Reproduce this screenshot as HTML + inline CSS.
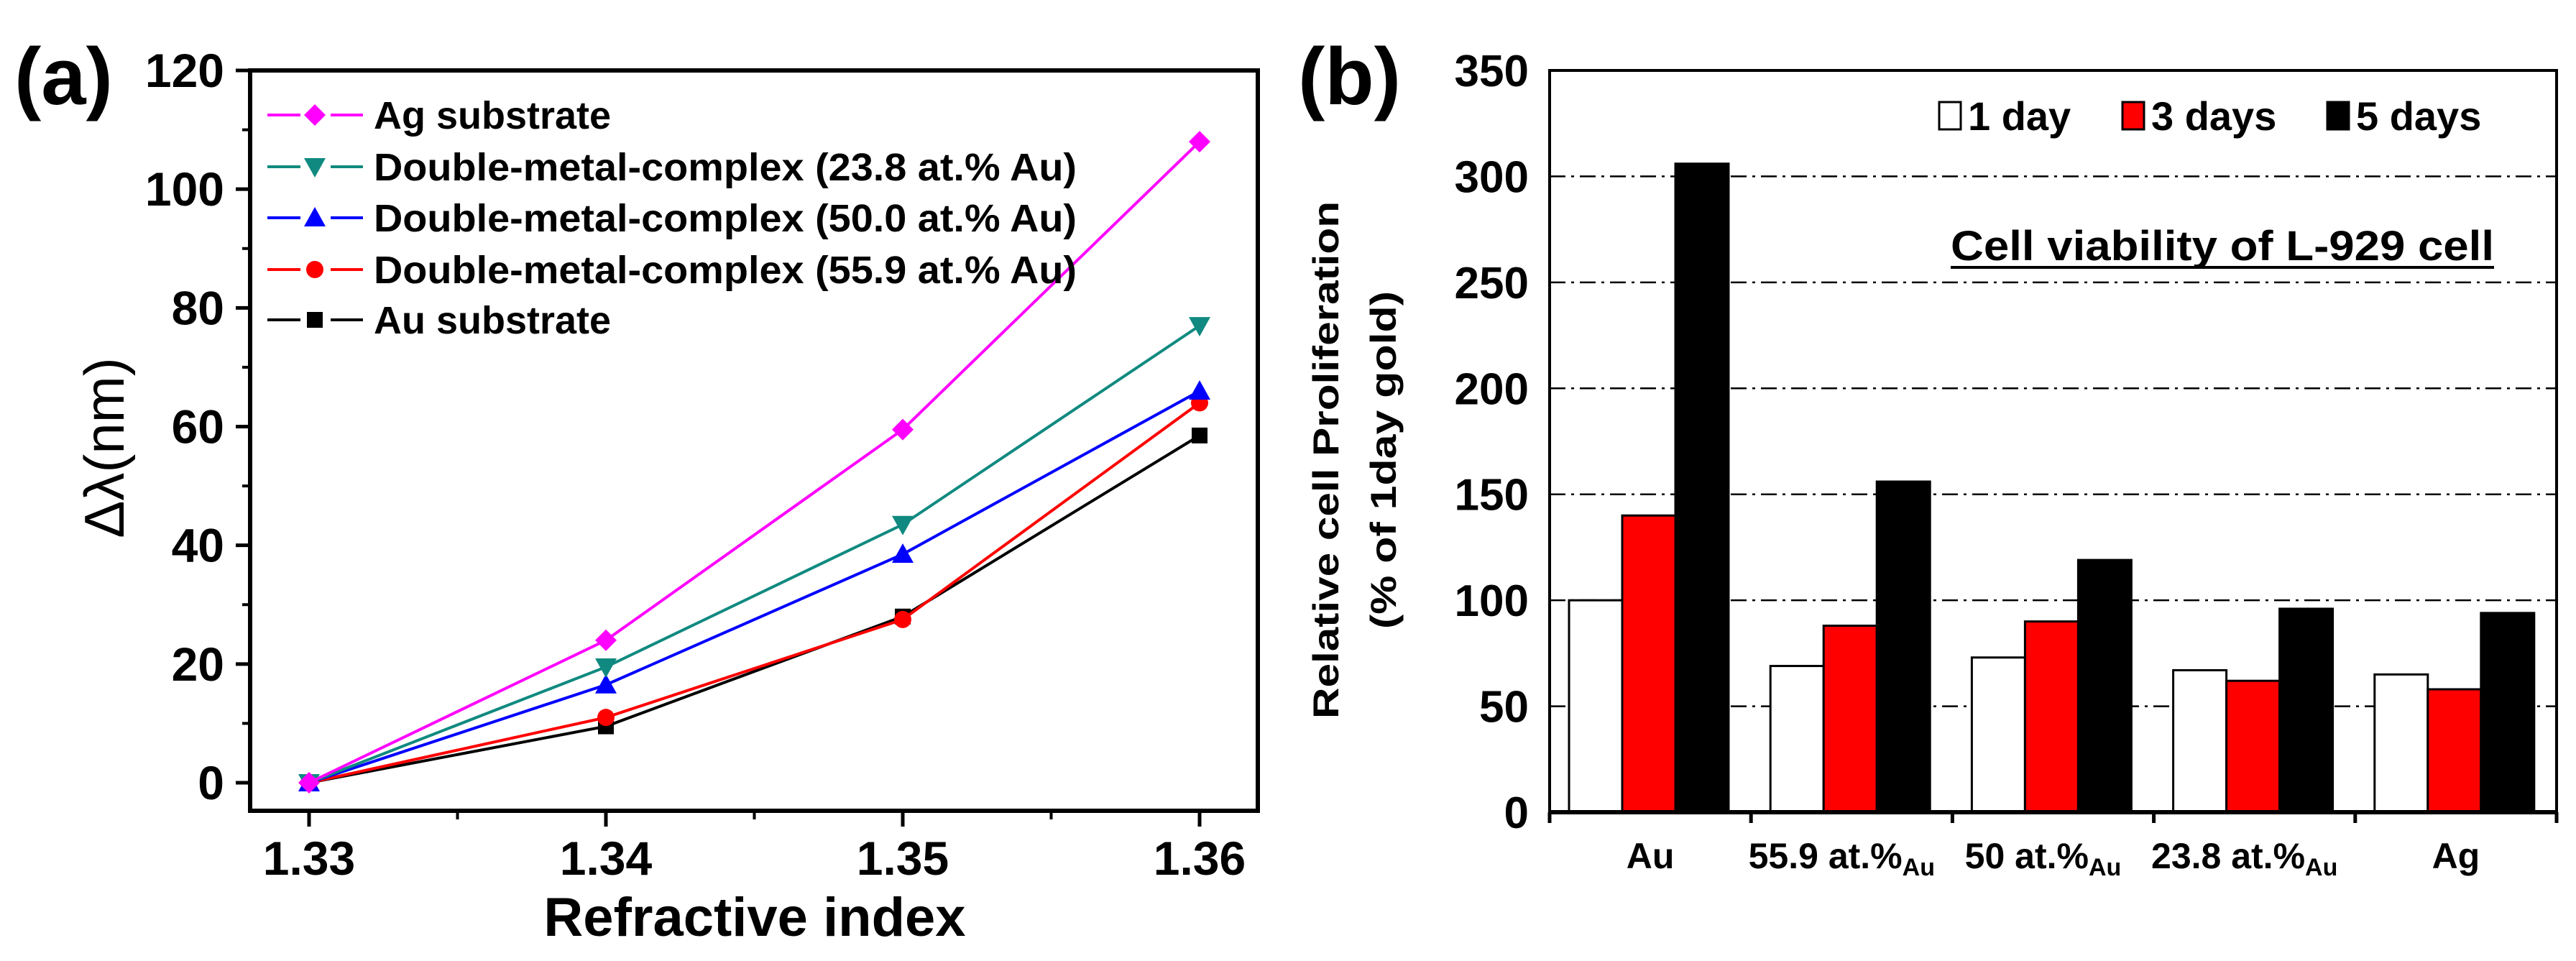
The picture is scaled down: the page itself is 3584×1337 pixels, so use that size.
<!DOCTYPE html>
<html><head><meta charset="utf-8"><style>
html,body{margin:0;padding:0;background:#fff;}
svg{display:block;font-family:"Liberation Sans",Arial,sans-serif;font-weight:bold;}
</style></head><body>
<svg id="fig" width="3584" height="1337" viewBox="0 0 3584 1337" xmlns="http://www.w3.org/2000/svg">
<rect width="3584" height="1337" fill="#fff"/>
<g id="pa"></g>
<g id="pb"></g>
</svg>
<script>
// ---------- Panel (a) data ----------
const aCategories = [1.33, 1.34, 1.35, 1.36];
const aTickLabels = ["1.33", "1.34", "1.35", "1.36"];
const aYTicks = [0, 20, 40, 60, 80, 100, 120];
const agValues = [0, 24, 59.5, 108];
const dm238Values = [0, 19.5, 43.5, 77];
const dm500Values = [0, 16.5, 38.5, 66];
const dm559Values = [0, 11, 27.5, 64];
const auValues = [0, 9.5, 28, 58.5];
const aSeriesNames = ["Ag substrate", "Double-metal-complex (23.8 at.% Au)", "Double-metal-complex (50.0 at.% Au)", "Double-metal-complex (55.9 at.% Au)", "Au substrate"];

// ---------- Panel (b) data ----------
const bCategories = ["Au", "55.9 at.%", "50 at.%", "23.8 at.%", "Ag"];
const bSubscripts = ["", "Au", "Au", "Au", ""];
const day1Values = [100, 69, 73, 67, 65];
const day3Values = [140, 88, 90, 62, 58];
const day5Values = [306, 156, 119, 96, 94];
const bYTicks = [0, 50, 100, 150, 200, 250, 300, 350];
const bSeriesNames = ["1 day", "3 days", "5 days"];

const NS = "http://www.w3.org/2000/svg";
function mk(parent, tag, attrs, text) {
  const e = document.createElementNS(NS, tag);
  for (const k in attrs) e.setAttribute(k, attrs[k]);
  if (text !== undefined) e.textContent = text;
  parent.appendChild(e);
  return e;
}

// ===== Panel a =====
const pa = document.getElementById('pa');
const aL = 348, aR = 1750, aT = 98, aB = 1128;
const ax = v => 430 + (v - 1.33) / 0.01 * 413;
const ay = v => 1089 - v / 120 * (1089 - 98);

let t = mk(pa, 'text', {x: 20, y: 145, 'font-size': 112, 'font-family': '"Liberation Sans",sans-serif'}, '(a)');



let fr = mk(pa, 'rect', {x: aL, y: aT, width: aR - aL, height: aB - aT, fill: 'none', stroke: '#000', 'stroke-width': 6});



// y ticks
for (let i = 0; i < aYTicks.length; i++) {
  const v = aYTicks[i];
  const tk = mk(pa, 'line', {x1: aL - 20, x2: aL, y1: ay(v), y2: ay(v), stroke: '#000', 'stroke-width': 5});
  
  
  if (i < aYTicks.length - 1) {
    const m = mk(pa, 'line', {x1: aL - 11, x2: aL, y1: ay(v + 10), y2: ay(v + 10), stroke: '#000', 'stroke-width': 4});
    
    
  }
  const lb = mk(pa, 'text', {x: 312, y: ay(v) + 23, 'text-anchor': 'end', 'font-size': 66}, String(v));
  
  
}
// x ticks
for (let i = 0; i < aCategories.length; i++) {
  const x = ax(aCategories[i]);
  const tk = mk(pa, 'line', {x1: x, x2: x, y1: aB, y2: aB + 22, stroke: '#000', 'stroke-width': 5});
  
  
  if (i < aCategories.length - 1) {
    const mx = ax(aCategories[i] + 0.005);
    const m = mk(pa, 'line', {x1: mx, x2: mx, y1: aB, y2: aB + 12, stroke: '#000', 'stroke-width': 4});
    
    
  }
  const lb = mk(pa, 'text', {x: x, y: 1217, 'text-anchor': 'middle', 'font-size': 66}, aTickLabels[i]);
  
  
}
t = mk(pa, 'text', {x: 1050, y: 1302, 'text-anchor': 'middle', 'font-size': 76}, 'Refractive index');


t = mk(pa, 'text', {x: 0, y: 0, 'text-anchor': 'middle', 'font-size': 78, transform: 'translate(172,623) rotate(-90)', 'font-weight': 'normal'}, 'Δλ(nm)');



const aSeries = [
  {vals: agValues, color: '#ff00ff', m: 'diamond'},
  {vals: dm238Values, color: '#108a80', m: 'tri-down'},
  {vals: dm500Values, color: '#0000ff', m: 'tri-up'},
  {vals: dm559Values, color: '#ff0000', m: 'circle'},
  {vals: auValues, color: '#000000', m: 'square'}
];
function marker(g, type, x, y, color) {
  let e;
  const s = 15;
  if (type === 'diamond') e = mk(g, 'polygon', {points: `${x},${y-s} ${x+s},${y} ${x},${y+s} ${x-s},${y}`, fill: color});
  else if (type === 'tri-down') e = mk(g, 'polygon', {points: `${x-s},${y-s*0.8} ${x+s},${y-s*0.8} ${x},${y+s}`, fill: color});
  else if (type === 'tri-up') e = mk(g, 'polygon', {points: `${x-s},${y+s*0.8} ${x+s},${y+s*0.8} ${x},${y-s}`, fill: color});
  else if (type === 'circle') e = mk(g, 'circle', {cx: x, cy: y, r: 12, fill: color});
  else e = mk(g, 'rect', {x: x - 11, y: y - 11, width: 22, height: 22, fill: color});
  return e;
}
// draw in reverse so Ag on top
for (let si = aSeries.length - 1; si >= 0; si--) {
  const s = aSeries[si];
  const g = mk(pa, 'g', {});
  
  
  const pts = s.vals.map((v, i) => ax(aCategories[i]) + ',' + ay(v)).join(' ');
  const pl = mk(g, 'polyline', {points: pts, fill: 'none', stroke: s.color, 'stroke-width': 4});
  
  
  s.vals.forEach((v, i) => {
    const mm = marker(g, s.m, ax(aCategories[i]), ay(v), s.color);
    
    
  });
}
// legend a
const legRows = [160, 232, 303, 375, 445];
aSeries.forEach((s, i) => {
  const g = mk(pa, 'g', {});
  
  
  const y = legRows[i];
  mk(g, 'line', {x1: 372, x2: 418, y1: y, y2: y, stroke: s.color, 'stroke-width': 4});
  mk(g, 'line', {x1: 460, x2: 505, y1: y, y2: y, stroke: s.color, 'stroke-width': 4});
  marker(g, s.m, 438, y, s.color);
  const tx = mk(g, 'text', {x: 520, y: y + 19, 'font-size': 54}, aSeriesNames[i]);
  if (i > 0 && i < 4) { tx.setAttribute('textLength', 978); tx.setAttribute('lengthAdjust', 'spacingAndGlyphs'); }
});

// ===== Panel b =====
const pb = document.getElementById('pb');
const bL = 2156, bR = 3557, bT = 98, bB = 1130;
const by = v => bB - v / 350 * (bB - bT);
const gW = (bR - bL) / 5;
const gx = i => bL + i * gW;

t = mk(pb, 'text', {x: 1806, y: 145, 'font-size': 112}, '(b)');



// gridlines
for (let i = 1; i < bYTicks.length - 1; i++) {
  const gl = mk(pb, 'line', {x1: bL, x2: bR, y1: by(bYTicks[i]), y2: by(bYTicks[i]), stroke: '#000', 'stroke-width': 2.5, 'stroke-dasharray': '22 8 4 8'});
  
  
}
// bars
const bSeries = [day1Values, day3Values, day5Values];
const bColors = ['#ffffff', '#ff0000', '#000000'];
const bw = 74;
for (let c = 0; c < bCategories.length; c++) {
  for (let s = 0; s < 3; s++) {
    const x = gx(c) + 27 + s * bw;
    const v = bSeries[s][c];
    const r = mk(pb, 'rect', {x: x, y: by(v), width: bw, height: bB - by(v), fill: bColors[s], stroke: '#000', 'stroke-width': 3});
    
    
  }
}
// frame
const fb = mk(pb, 'path', {d: `M${bL},${bB} L${bL},${bT} L${bR},${bT} L${bR},${bB}`, fill: 'none', stroke: '#000', 'stroke-width': 4});


const xa = mk(pb, 'line', {x1: bL - 2, x2: bR + 2, y1: bB, y2: bB, stroke: '#000', 'stroke-width': 6});


for (let c = 0; c <= 5; c++) {
  const tk = mk(pb, 'line', {x1: gx(c), x2: gx(c), y1: bB, y2: bB + 15, stroke: '#000', 'stroke-width': 5});
  
  
}
for (let c = 0; c < bCategories.length; c++) {
  const lb = mk(pb, 'text', {x: gx(c) + gW / 2 + (bSubscripts[c] ? -14 : 0), y: 1208, 'text-anchor': 'middle', 'font-size': 50}, bCategories[c]);
  if (bSubscripts[c]) {
    const ts = mk(lb, 'tspan', {'font-size': 34, dy: 10}, bSubscripts[c]);
  }
  
  
}
for (let i = 0; i < bYTicks.length; i++) {
  const lb = mk(pb, 'text', {x: 2127, y: by(bYTicks[i]) + 22, 'text-anchor': 'end', 'font-size': 62}, String(bYTicks[i]));
  
  
}
t = mk(pb, 'text', {x: 0, y: 0, 'text-anchor': 'middle', 'font-size': 50, transform: 'translate(1862,640) rotate(-90)', textLength: 720, lengthAdjust: 'spacingAndGlyphs'}, 'Relative cell Proliferation');


t = mk(pb, 'text', {x: 0, y: 0, 'text-anchor': 'middle', 'font-size': 50, transform: 'translate(1942,640) rotate(-90)', textLength: 470, lengthAdjust: 'spacingAndGlyphs'}, '(% of 1day gold)');



// legend b
const legX = [2698, 2953, 3238];
for (let s = 0; s < 3; s++) {
  const g = mk(pb, 'g', {});
  
  
  mk(g, 'rect', {x: legX[s], y: 142, width: 30, height: 38, fill: bColors[s], stroke: '#000', 'stroke-width': 3});
  mk(g, 'text', {x: legX[s] + 40, y: 181, 'font-size': 56}, bSeriesNames[s]);
}
t = mk(pb, 'text', {x: 2714, y: 362, 'font-size': 58, textLength: 756, lengthAdjust: 'spacingAndGlyphs'}, 'Cell viability of L-929 cell');


const ul = mk(pb, 'line', {x1: 2714, x2: 3470, y1: 372, y2: 372, stroke: '#000', 'stroke-width': 4});


</script>
</body></html>
